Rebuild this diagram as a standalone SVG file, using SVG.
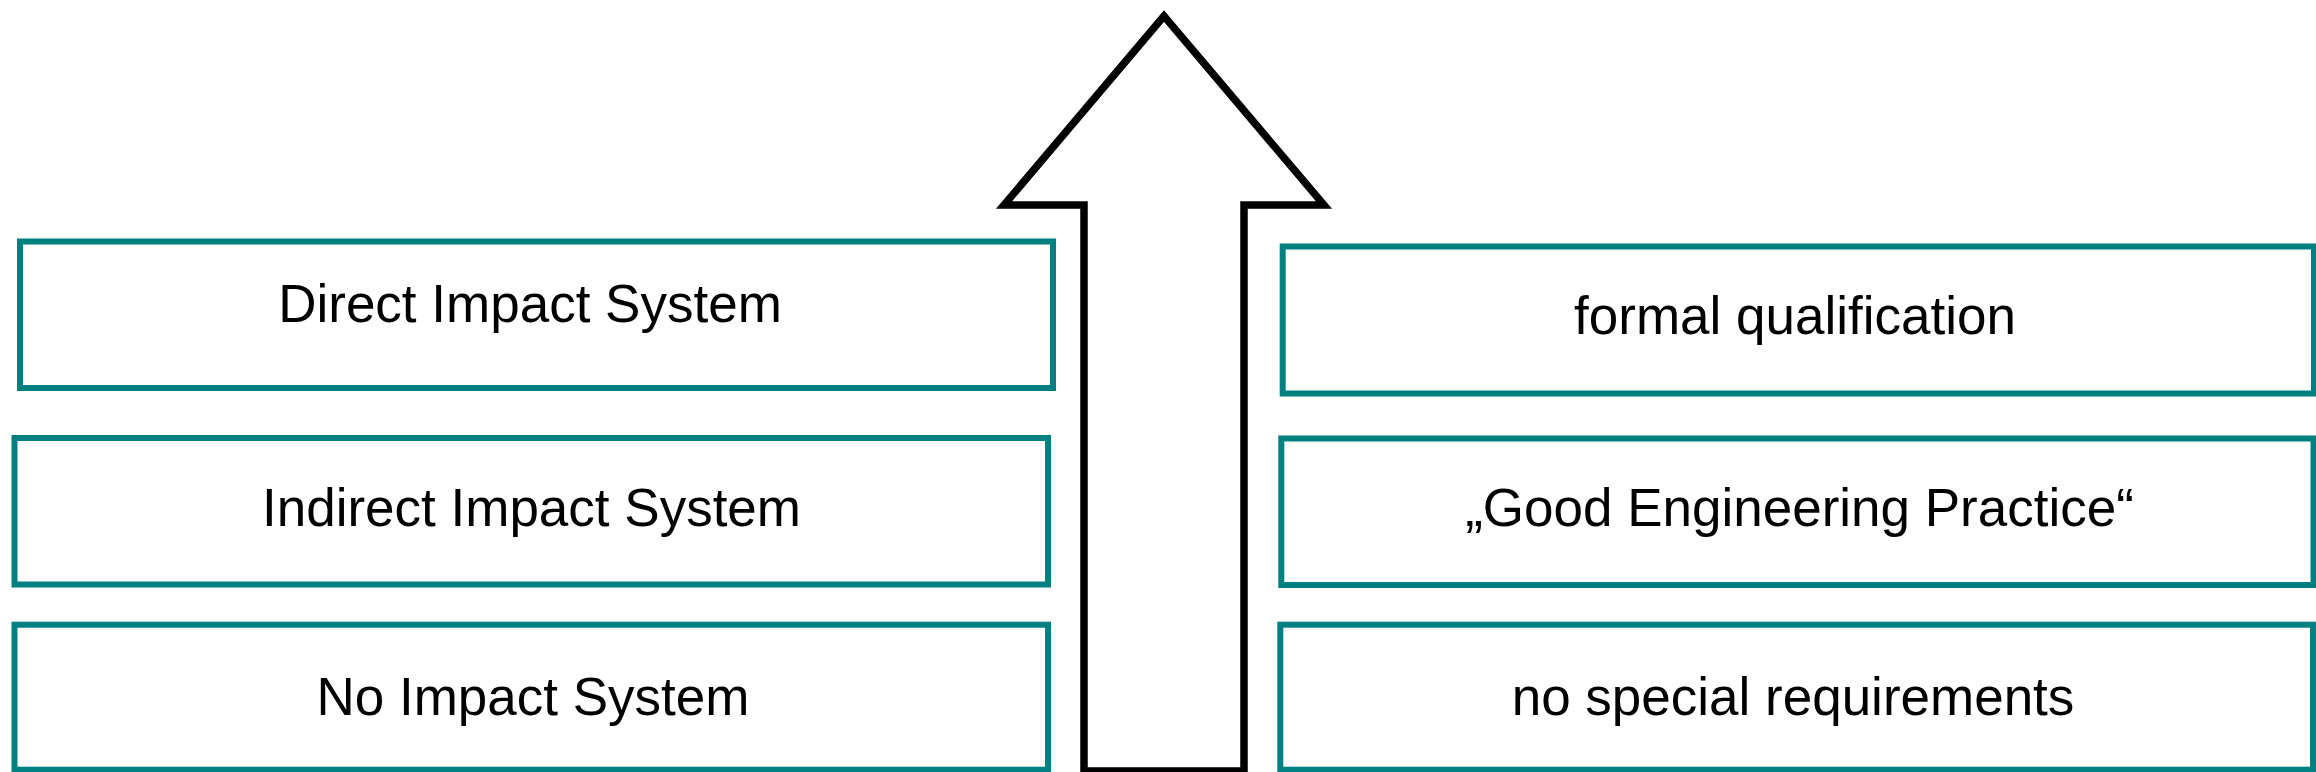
<svg xmlns="http://www.w3.org/2000/svg" width="2316" height="772" viewBox="0 0 2316 772">
<style>
.box{fill:#fff;stroke:#008080;stroke-width:6}
.lbl{font-family:"Liberation Sans",Arial,sans-serif;font-size:53px;fill:#000;text-anchor:middle}
.arrow{fill:#fff;stroke:#000;stroke-width:7.5;stroke-miterlimit:10}
</style>
<rect width="2316" height="772" fill="#fff"/>
<g id="connectors">
<polygon class="arrow" points="1164,16 1004,205 1084,205 1084,771 1244,771 1244,205 1324,205"/>
</g>
<g id="direct"><rect class="box" x="20" y="241.5" width="1033" height="146.5"/><text class="lbl" x="530" y="322">Direct Impact System</text></g>
<g id="indirect"><rect class="box" x="14.5" y="438" width="1033.5" height="146.5"/><text class="lbl" x="531.5" y="526">Indirect Impact System</text></g>
<g id="noimpact"><rect class="box" x="14.5" y="624.7" width="1033.5" height="145"/><text class="lbl" x="533" y="715">No Impact System</text></g>
<g id="formal"><rect class="box" x="1282.7" y="246.5" width="1031.3" height="147"/><text class="lbl" x="1795" y="334">formal qualification</text></g>
<g id="gep"><rect class="box" x="1281.3" y="438.5" width="1032.2" height="146.5"/><text class="lbl" x="1799.5" y="526">„Good Engineering Practice“</text></g>
<g id="nospecial"><rect class="box" x="1280.3" y="624.7" width="1032.7" height="145"/><text class="lbl" x="1793" y="715">no special requirements</text></g>
</svg>
